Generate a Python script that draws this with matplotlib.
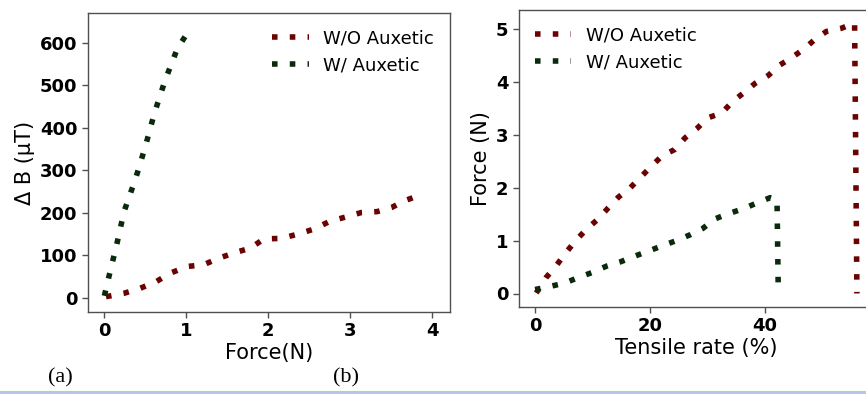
import matplotlib
matplotlib.use("Agg")
import matplotlib.pyplot as plt
from matplotlib.patches import Rectangle

# ---- data: panel (a) ----
force_wo = [0.02, 0.24, 0.44, 0.63, 0.80, 1.01, 1.21, 1.39, 1.60, 1.78, 1.95, 2.16,
            2.36, 2.56, 2.75, 2.94, 3.14, 3.33, 3.51, 3.67, 3.86]
dB_wo = [3, 11, 23, 38, 58, 74, 78, 93, 107, 117, 139, 140,
         150, 162, 180, 190, 201, 203, 213, 229, 242]
force_w = [0.0, 0.05, 0.15, 0.24, 0.38, 0.50, 0.61, 0.74, 0.89, 1.0]
dB_w = [5, 46, 125, 203, 280, 356, 434, 511, 586, 619]

# ---- data: panel (b) ----
strain_wo = [0.2, 1.9, 3.65, 5.2, 7.0, 8.9, 10.9, 12.75, 14.5, 16.5, 18.4, 20.2, 22.1,
             24.3, 26.1, 28.1, 30.1, 32.5, 34.4, 36.3, 38.3, 40.6, 42.5, 44.6, 46.8,
             48.7, 50.7, 53.3, 55.6, 56.0]
fn_wo = [0.01, 0.30, 0.52, 0.75, 0.99, 1.21, 1.40, 1.62, 1.82, 1.99, 2.20, 2.40, 2.60,
         2.72, 2.94, 3.11, 3.32, 3.41, 3.63, 3.79, 3.97, 4.12, 4.31, 4.45, 4.62,
         4.80, 4.95, 5.01, 5.11, 0.0]
strain_w = [0.0, 2.3, 5.2, 7.5, 10.0, 12.5, 14.9, 17.2, 19.7, 22.1, 24.6, 27.0, 29.2,
            31.3, 33.7, 36.2, 38.6, 40.9, 42.1, 42.3]
fn_w = [0.075, 0.125, 0.2, 0.3, 0.40, 0.52, 0.60, 0.70, 0.80, 0.90, 1.0, 1.11, 1.23,
        1.41, 1.51, 1.60, 1.71, 1.81, 1.77, 0.17]

labels = ["W/O Auxetic", "W/ Auxetic"]
c_red = "#6a0202"
c_green = "#0b2a0b"

W, H = 866, 394
fig = plt.figure(figsize=(W / 100, H / 100), dpi=100)

ls = (0, (1, 2.2))
lw = 4.0

def style(ax):
    for s in ax.spines.values():
        s.set_color("#505050")
        s.set_linewidth(1.0)
    ax.tick_params(labelsize=13, length=4, width=1, color="#505050")
    plt.setp(ax.get_xticklabels() + ax.get_yticklabels(), fontweight="bold")

# panel (a)
axa = fig.add_axes([88 / W, (H - 312) / H, (450 - 88) / W, (312 - 13) / H])
axa.plot(force_wo, dB_wo, color=c_red, lw=lw, ls=ls, label=labels[0])
axa.plot(force_w, dB_w, color=c_green, lw=lw, ls=ls, label=labels[1])
axa.set_xlim(-0.2, 4.22)
axa.set_ylim(-33, 670)
axa.set_xticks([0, 1, 2, 3, 4])
axa.set_yticks([0, 100, 200, 300, 400, 500, 600])
axa.set_xlabel("Force(N)", fontsize=15, labelpad=2)
axa.set_ylabel("Δ B (μT)", fontsize=15, labelpad=4)
axa.legend(loc="upper right", frameon=False, fontsize=13, handlelength=2.0)
style(axa)

# panel (b)
axb = fig.add_axes([519 / W, (H - 307) / H, (873 - 519) / W, (307 - 10) / H])
axb.plot(strain_wo, fn_wo, color=c_red, lw=lw, ls=ls, label=labels[0])
axb.plot(strain_w, fn_w, color=c_green, lw=lw, ls=ls, label=labels[1])
axb.set_xlim(-2.8, 58.8)
axb.set_ylim(-0.255, 5.355)
axb.set_xticks([0, 20, 40])
axb.set_yticks([0, 1, 2, 3, 4, 5])
axb.set_xlabel("Tensile rate (%)", fontsize=15, labelpad=2)
axb.set_ylabel("Force (N)", fontsize=15, labelpad=4)
axb.legend(loc="upper left", frameon=False, fontsize=13, handlelength=2.0)
style(axb)

# sub-figure labels
fig.text(60 / W, 1 - 378 / H, "(a)", family="Liberation Serif", fontsize=16,
         ha="center", va="center")
fig.text(346 / W, 1 - 378 / H, "(b)", family="Liberation Serif", fontsize=16,
         ha="center", va="center")

# light blue strip at bottom
fig.add_artist(Rectangle((0, 0), 1, 3 / H, transform=fig.transFigure,
                         facecolor="#b4c7e7", edgecolor="none"))

fig.savefig("out.png", dpi=100)
